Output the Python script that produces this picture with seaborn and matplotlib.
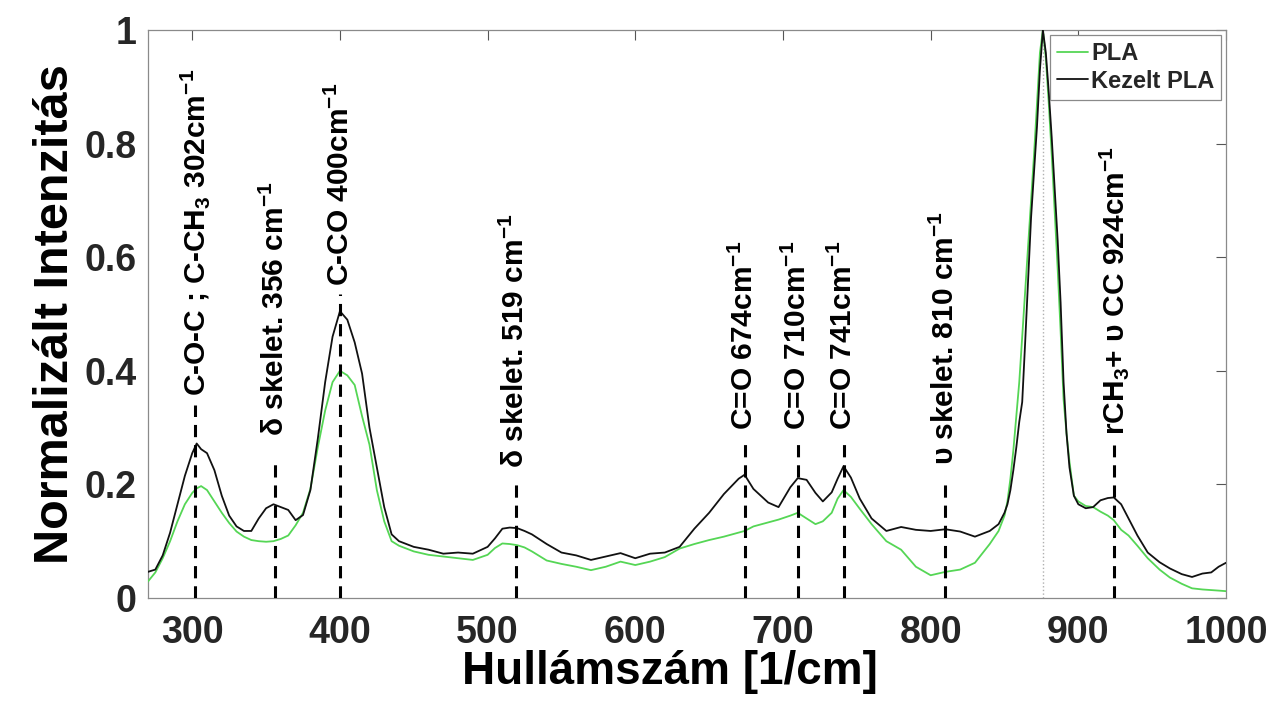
import matplotlib
matplotlib.use("Agg")
import matplotlib.pyplot as plt
import numpy as np
import pandas as pd
import seaborn as sns

# ---------- data ----------

wavenumber = [
    270, 275, 280, 285, 290, 295, 300, 303, 306, 310, 315, 320, 325, 330, 335,
    340, 345, 350, 355, 360, 365, 370, 375, 380, 385, 390, 395, 400, 405, 410,
    415, 420, 425, 430, 435, 440, 450, 460, 470, 480, 490, 500, 505, 510, 515,
    520, 525, 530, 540, 550, 560, 570, 580, 590, 600, 610, 620, 630, 640, 650,
    660, 670, 674, 680, 690, 697, 705, 710, 716, 722, 727, 733, 737, 741, 746,
    752, 760, 770, 780, 790, 800, 810, 820, 830, 840, 846, 850, 852, 854, 856,
    858, 860, 862, 864, 866, 868, 870, 872, 874, 876, 878, 880, 882, 884, 886,
    888, 890, 892, 894, 897, 900, 905, 910, 915, 920, 924, 929, 934, 940, 947,
    955, 962, 970, 977, 984, 990, 995, 1000,
]

kezelt_pla = [
    0.046, 0.050, 0.075, 0.115, 0.165, 0.215, 0.255, 0.272, 0.262, 0.255, 0.225, 0.180, 0.145, 0.126, 0.118,
    0.118, 0.140, 0.158, 0.165, 0.160, 0.155, 0.137, 0.146, 0.190, 0.280, 0.380, 0.460, 0.505, 0.490, 0.450,
    0.395, 0.300, 0.230, 0.160, 0.112, 0.100, 0.090, 0.085, 0.078, 0.080, 0.078, 0.090, 0.105, 0.122, 0.124,
    0.123, 0.118, 0.112, 0.095, 0.080, 0.075, 0.067, 0.073, 0.079, 0.070, 0.078, 0.080, 0.090, 0.122, 0.150,
    0.183, 0.210, 0.217, 0.192, 0.168, 0.160, 0.195, 0.211, 0.208, 0.185, 0.170, 0.186, 0.210, 0.232, 0.212,
    0.175, 0.140, 0.118, 0.125, 0.120, 0.118, 0.121, 0.117, 0.108, 0.118, 0.130, 0.150, 0.165, 0.190, 0.225,
    0.265, 0.310, 0.345, 0.450, 0.560, 0.670, 0.750, 0.830, 0.930, 1.000, 0.960, 0.890, 0.810, 0.720, 0.630,
    0.520, 0.380, 0.290, 0.230, 0.180, 0.165, 0.158, 0.160, 0.172, 0.176, 0.177, 0.165, 0.140, 0.110, 0.080,
    0.063, 0.052, 0.042, 0.037, 0.043, 0.045, 0.055, 0.062,
]

pla = [
    0.029, 0.045, 0.070, 0.100, 0.135, 0.165, 0.185, 0.193, 0.197, 0.190, 0.170, 0.150, 0.132, 0.117, 0.108,
    0.102, 0.100, 0.099, 0.100, 0.104, 0.110, 0.128, 0.150, 0.192, 0.265, 0.330, 0.380, 0.400, 0.392, 0.375,
    0.320, 0.270, 0.190, 0.135, 0.100, 0.092, 0.082, 0.076, 0.073, 0.070, 0.067, 0.076, 0.088, 0.096, 0.095,
    0.093, 0.089, 0.082, 0.066, 0.060, 0.055, 0.049, 0.055, 0.064, 0.058, 0.064, 0.072, 0.087, 0.095, 0.102,
    0.108, 0.115, 0.118, 0.126, 0.133, 0.138, 0.145, 0.150, 0.140, 0.130, 0.135, 0.150, 0.175, 0.190, 0.178,
    0.157, 0.130, 0.100, 0.085, 0.055, 0.040, 0.046, 0.050, 0.062, 0.095, 0.118, 0.145, 0.170, 0.210, 0.260,
    0.320, 0.380, 0.460, 0.540, 0.620, 0.700, 0.780, 0.870, 0.960, 1.000, 0.950, 0.870, 0.780, 0.680, 0.580,
    0.470, 0.350, 0.290, 0.240, 0.180, 0.170, 0.162, 0.160, 0.152, 0.145, 0.137, 0.120, 0.110, 0.092, 0.070,
    0.050, 0.036, 0.025, 0.017, 0.015, 0.014, 0.013, 0.012,
]

# peak annotations: position, label, top of dashed line, bottom of label
peak_pos = [302, 356, 400, 519, 674, 710, 741, 810, 924]
peak_labels = [
    "C-O-C ; C-CH$_3$ 302cm$^{-1}$",
    "δ skelet. 356 cm$^{-1}$",
    "C-CO 400cm$^{-1}$",
    "δ skelet. 519 cm$^{-1}$",
    "C=O 674cm$^{-1}$",
    "C=O 710cm$^{-1}$",
    "C=O 741cm$^{-1}$",
    "υ skelet. 810 cm$^{-1}$",
    "rCH$_3$+ υ CC 924cm$^{-1}$",
]
dash_top = [0.34, 0.245, 0.535, 0.205, 0.28, 0.28, 0.28, 0.20, 0.27]
label_bottom = [0.355, 0.285, 0.55, 0.228, 0.295, 0.295, 0.295, 0.235, 0.287]

main_peak = 876

series_order = ["PLA", "Kezelt PLA"]
series_colors = {"PLA": "#55d655", "Kezelt PLA": "#111111"}

# ---------- plot ----------

sns.set_theme(style="white")
plt.rcParams["font.family"] = ["Liberation Sans", "DejaVu Sans"]
plt.rcParams["font.weight"] = "bold"
plt.rcParams["mathtext.fontset"] = "custom"
plt.rcParams["mathtext.rm"] = "Liberation Sans:bold"
plt.rcParams["mathtext.it"] = "Liberation Sans:bold"
plt.rcParams["mathtext.bf"] = "Liberation Sans:bold"
plt.rcParams["mathtext.default"] = "rm"

df = pd.DataFrame(
    {
        "Hullámszám": wavenumber * 2,
        "Intenzitás": pla + kezelt_pla,
        "minta": ["PLA"] * len(wavenumber) + ["Kezelt PLA"] * len(wavenumber),
    }
)

fig = plt.figure(figsize=(12.71, 7.05), dpi=100)
ax = fig.add_axes([0.1164, 0.1518, 0.8482, 0.8056])

# dotted marker at the main band
ax.axvline(main_peak, color="#b0b0b0", lw=1.0, ls=":", zorder=1)

sns.lineplot(
    data=df,
    x="Hullámszám",
    y="Intenzitás",
    hue="minta",
    hue_order=series_order,
    palette=series_colors,
    linewidth=1.3,
    sort=False,
    ax=ax,
    zorder=3,
)

for pos, lab, top, bot in zip(peak_pos, peak_labels, dash_top, label_bottom):
    ax.plot([pos, pos], [0, top], color="black", lw=2.2, ls=(0, (4, 2.6)), zorder=4)
    ax.text(pos, bot, lab, rotation=90, ha="center", va="bottom",
            fontsize=21.5, fontweight="bold", color="black", zorder=5)

ax.set_xlim(270, 1000)
ax.set_ylim(0, 1)
ax.set_xticks([300, 400, 500, 600, 700, 800, 900, 1000])
ax.set_yticks([0, 0.2, 0.4, 0.6, 0.8, 1])
ax.set_yticklabels(["0", "0.2", "0.4", "0.6", "0.8", "1"])

ax.tick_params(axis="both", which="both", direction="in", length=7, width=0.8,
               color="#555555", labelsize=27, labelcolor="#262626",
               top=True, right=True)
ax.tick_params(axis="x", pad=12)
ax.tick_params(axis="y", pad=8)
for lab in ax.get_xticklabels() + ax.get_yticklabels():
    lab.set_fontweight("bold")

for side in ["left", "right", "top", "bottom"]:
    ax.spines[side].set_visible(True)
    ax.spines[side].set_color("#8a8a8a")
    ax.spines[side].set_linewidth(0.9)

ax.set_xlabel("Hullámszám [1/cm]", fontsize=33, fontweight="bold", color="black")
ax.set_ylabel("Normalizált Intenzitás", fontsize=35, fontweight="bold", color="black")
ax.xaxis.set_label_coords(0.484, -0.092)
ax.yaxis.set_label_coords(-0.065, 0.5)

handles, labels = ax.get_legend_handles_labels()
leg = ax.legend(
    handles, labels, loc="upper right", fontsize=17, frameon=True, fancybox=False,
    framealpha=1, edgecolor="#8a8a8a", handlelength=1.3, handletextpad=0.12,
    borderpad=0.3, labelspacing=0.2, borderaxespad=0.2,
)
leg.get_frame().set_linewidth(0.9)
for t in leg.get_texts():
    t.set_fontweight("bold")

fig.savefig("out.png", dpi=100)
